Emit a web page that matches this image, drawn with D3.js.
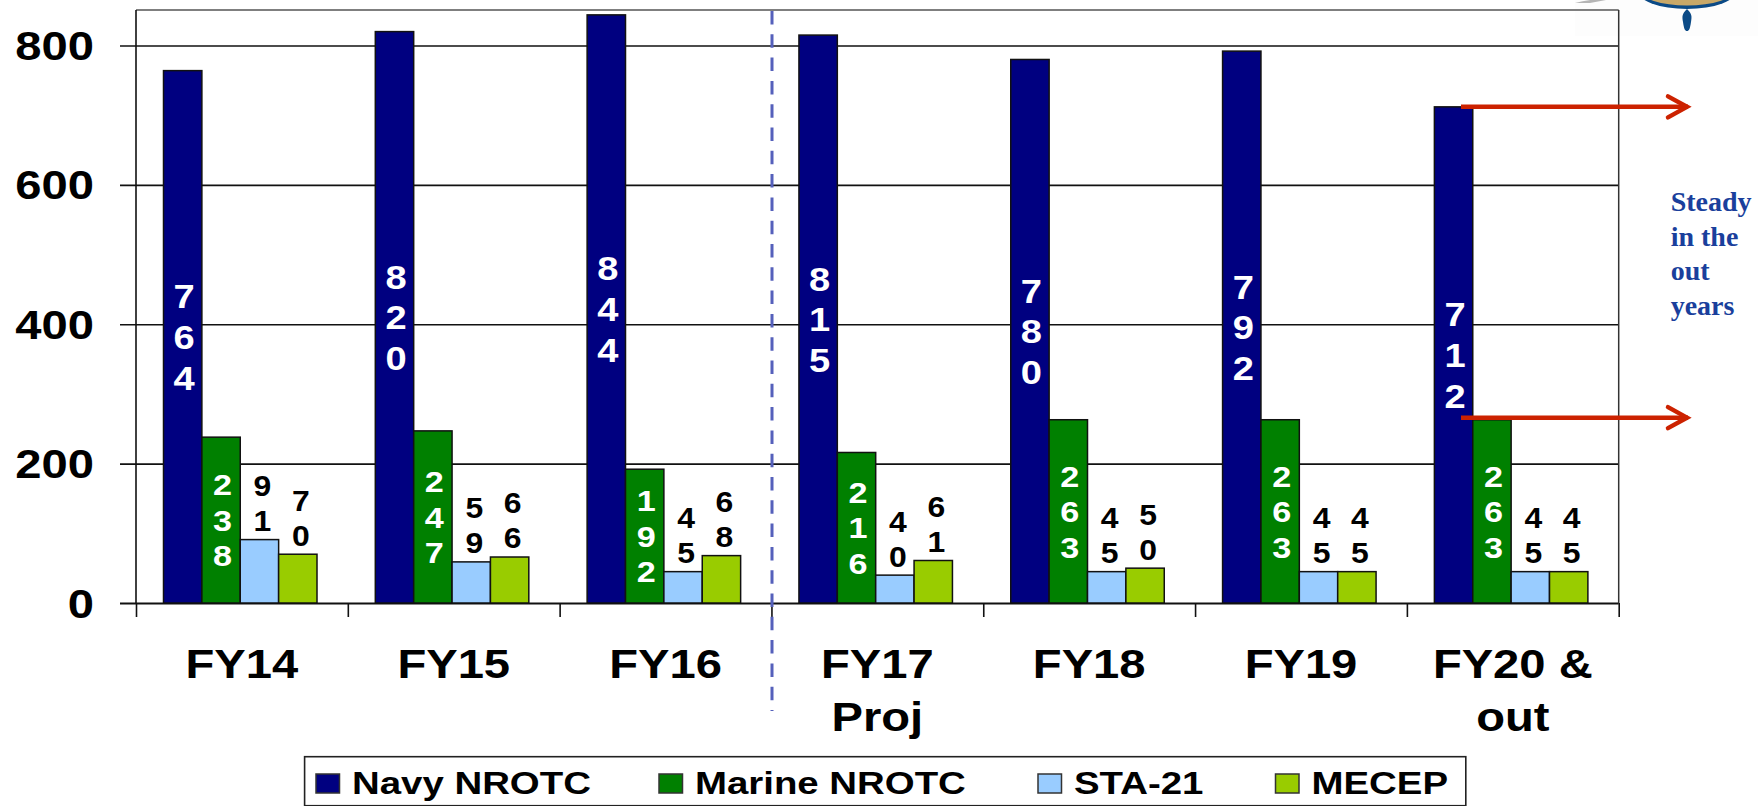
<!DOCTYPE html>
<html>
<head>
<meta charset="utf-8">
<script src="https://cdn.jsdelivr.net/npm/d3@7"></script>
<style>
  body { margin: 0; background: #fff; }
  svg { display: block; }
  text { font-family: "Liberation Sans", Arial, sans-serif; font-weight: bold; }
</style>
</head>
<body>
<div id="chart"></div>
<script>
// Chart data
const categories = ["FY14", "FY15", "FY16", "FY17\nProj", "FY18", "FY19", "FY20 &\nout"];
const seriesNames = ["Navy NROTC", "Marine NROTC", "STA-21", "MECEP"];
const navy = [764, 820, 844, 815, 780, 792, 712];
const marine = [238, 247, 192, 216, 263, 263, 263];
const sta21 = [91, 59, 45, 40, 45, 45, 45];
const mecep = [70, 66, 68, 61, 50, 45, 45];
const yTicks = [0, 200, 400, 600, 800];
const noteLines = ["Steady", "in the", "out", "years"];
const arrowValues = [712, 266];

const seriesValues = [navy, marine, sta21, mecep];
const colors = ["#000080", "#008000", "#99CCFF", "#99CC00"];

// Plot area
const plot = { left: 136, right: 1618.7, top: 10, bottom: 603 };
const svg = d3.select("#chart").append("svg").attr("width", 1758).attr("height", 806);

const x0 = d3.scaleBand().domain(categories).range([plot.left, plot.right]);
const x1 = d3.scaleBand().domain(seriesNames).range([27.5, 181]);
const xEdge = d3.scaleLinear().domain([0, categories.length]).range([plot.left, plot.right]);
const y = d3.scaleLinear().domain([0, 851]).range([plot.bottom, plot.top]);

// Bits of the logo cut off by the top of the slide
const logo = svg.append("g");
logo.append("rect").attr("x", 1575).attr("y", 0).attr("width", 183).attr("height", 36).attr("fill", "#fdfdfd");
logo.append("path").attr("d", "M1575,3 Q1590,-1 1606,-1 L1606,0 L1590,3 Z").attr("fill", "#b5b5b5");
logo.append("ellipse").attr("cx", 1687).attr("cy", -10).attr("rx", 50).attr("ry", 19).attr("fill", "#0b4a86");
logo.append("ellipse").attr("cx", 1687).attr("cy", -10).attr("rx", 47).attr("ry", 15.5).attr("fill", "#c8a868");
logo.append("path").attr("d", "M1687,9 C1692,14 1692,16 1691,22 C1690,29 1689,31 1687,31 C1685,31 1684,29 1683,22 C1682,16 1682,14 1687,9 Z").attr("fill", "#0b4a86");

// Y axis, ticks run across the plot as gridlines
const yAxis = svg.append("g")
  .attr("transform", `translate(${plot.left},0)`)
  .call(d3.axisLeft(y).tickValues(yTicks));
yAxis.select(".domain").remove();
yAxis.selectAll("line")
  .attr("x1", -16).attr("x2", plot.right - plot.left)
  .attr("stroke", "#111").attr("stroke-width", d => d === 0 ? 2 : 1.6);
yAxis.selectAll("text")
  .attr("x", 0).attr("dy", 0)
  .attr("text-anchor", "end")
  .attr("transform", "translate(-42,14) scale(1.15,1)")
  .attr("font-size", 41).attr("fill", "#000");

// Frame
svg.append("line").attr("x1", plot.left).attr("x2", plot.right).attr("y1", plot.top).attr("y2", plot.top)
  .attr("stroke", "#555").attr("stroke-width", 1.5);
svg.append("line").attr("x1", plot.right).attr("x2", plot.right).attr("y1", plot.top).attr("y2", plot.bottom)
  .attr("stroke", "#333").attr("stroke-width", 1.5);
svg.append("line").attr("x1", plot.left).attr("x2", plot.left).attr("y1", plot.top).attr("y2", plot.bottom)
  .attr("stroke", "#111").attr("stroke-width", 1.6);

// X axis tick marks sit on the band edges
const xTicks = svg.append("g")
  .attr("transform", `translate(0,${plot.bottom})`)
  .call(d3.axisBottom(xEdge).ticks(categories.length).tickSize(14).tickFormat(""));
xTicks.select(".domain").remove();
xTicks.selectAll("line").attr("stroke", "#111").attr("stroke-width", 1.6);

const xLabels = svg.append("g")
  .attr("transform", `translate(0,${plot.bottom})`)
  .call(d3.axisBottom(x0).tickSize(0));
xLabels.select(".domain").remove();
xLabels.selectAll("text")
  .attr("y", 0).attr("dy", 0)
  .attr("transform", "translate(0,75) scale(1.15,1)")
  .attr("font-size", 41).attr("fill", "#000")
  .each(function(d) {
    const t = d3.select(this).text(null);
    d.split("\n").forEach((line, i) => {
      t.append("tspan").attr("x", 0).attr("dy", i ? 53 : 0).text(line);
    });
  });

// Bars
const groups = svg.selectAll(".group")
  .data(categories)
  .enter()
  .append("g")
  .attr("class", "group")
  .attr("transform", d => `translate(${x0(d)},0)`);

groups.selectAll("rect")
  .data((d, i) => seriesNames.map((s, j) => ({ s, j, v: seriesValues[j][i] })))
  .enter()
  .append("rect")
  .attr("x", d => x1(d.s))
  .attr("y", d => y(d.v))
  .attr("width", x1.bandwidth())
  .attr("height", d => plot.bottom - y(d.v))
  .attr("fill", d => colors[d.j])
  .attr("stroke", "#111")
  .attr("stroke-width", 1.5);

// Data labels wrap one digit per line. The two tall series sit mid bar, the short ones above it.
const labelStyles = [
  { size: 34, line: 40.7, sx: 1.12, fill: "#fff", dx: 1.5 },
  { size: 30, line: 35.5, sx: 1.14, fill: "#fff", dx: 1.5 },
  { size: 29, line: 35, sx: 1.1, fill: "#000", dx: 3 },
  { size: 29, line: 35, sx: 1.1, fill: "#000", dx: 3 }
];

groups.each(function(cat, i) {
  seriesNames.forEach((s, j) => {
    const v = seriesValues[j][i];
    const st = labelStyles[j];
    const digits = String(v).split("");
    const cx = x1(s) + x1.bandwidth() / 2 + st.dx;
    // y of the centre of the first digit
    const first = j < 2
      ? y(v / 2) - st.line * (digits.length - 1) / 2
      : y(v) - 19 - st.line * (digits.length - 1);
    d3.select(this).selectAll(null)
      .data(digits)
      .enter()
      .append("text")
      .attr("text-anchor", "middle")
      .attr("font-size", st.size)
      .attr("fill", st.fill)
      .attr("transform", (d, k) => `translate(${cx},${first + k * st.line + st.size * 0.358}) scale(${st.sx},1)`)
      .text(d => d);
  });
});

// Dashed line between actuals and projections
svg.append("line")
  .attr("x1", 772).attr("x2", 772).attr("y1", 11).attr("y2", 711)
  .attr("stroke", "#5560BB").attr("stroke-width", 3)
  .attr("stroke-dasharray", "13.5 9.8");

// Red arrows
const arrows = svg.selectAll(".arrow")
  .data(arrowValues)
  .enter()
  .append("g")
  .attr("class", "arrow")
  .attr("fill", "none")
  .attr("stroke", "#CC2200")
  .attr("stroke-width", 4.5);
arrows.append("line")
  .attr("x1", 1461).attr("x2", 1688)
  .attr("y1", d => y(d)).attr("y2", d => y(d));
arrows.append("polyline")
  .attr("stroke-linecap", "round")
  .attr("points", d => `1668,${y(d) - 10.5} 1687,${y(d)} 1668,${y(d) + 10.5}`);

// Side note
svg.selectAll(".note")
  .data(noteLines)
  .enter()
  .append("text")
  .attr("class", "note")
  .attr("x", 1670.7)
  .attr("y", (d, i) => 210.7 + i * 34.8)
  .attr("font-size", 28)
  .attr("fill", "#1A3F9C")
  .style("font-family", "'Liberation Serif', serif")
  .text(d => d);

// Legend
svg.append("rect")
  .attr("x", 304.6).attr("y", 756.7).attr("width", 1161.2).attr("height", 49)
  .attr("fill", "#fff").attr("stroke", "#222").attr("stroke-width", 1.6);
const legendX = [316, 659, 1038, 1275.5];
const legendItems = svg.selectAll(".legend")
  .data(seriesNames)
  .enter()
  .append("g")
  .attr("class", "legend")
  .attr("transform", (d, i) => `translate(${legendX[i]},774)`);
legendItems.append("rect")
  .attr("width", 23.5).attr("height", 19)
  .attr("fill", (d, i) => colors[i])
  .attr("stroke", "#333").attr("stroke-width", 1.5);
legendItems.append("text")
  .attr("transform", "translate(36,19.5) scale(1.2,1)")
  .attr("font-size", 32)
  .text(d => d);
</script>
</body>
</html>
